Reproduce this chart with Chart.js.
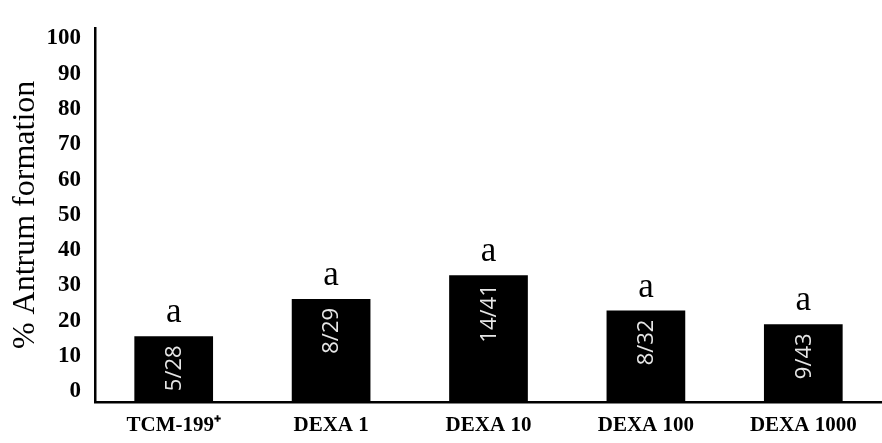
<!DOCTYPE html>
<html>
<head>
<meta charset="utf-8">
<script src="https://cdn.jsdelivr.net/npm/chart.js@4.4.1/dist/chart.umd.min.js"></script>
<style>
  html, body { margin: 0; padding: 0; background: #fff; }
  #wrap { width: 882px; height: 443px; position: relative; }
</style>
</head>
<body>
<div id="wrap"><canvas id="antrumChart"></canvas></div>
<script>
// values
const groups = ['TCM-199\u207A', 'DEXA 1', 'DEXA 10', 'DEXA 100', 'DEXA 1000'];
const antrumPct = [15.6, 26.2, 32.9, 22.9, 19.0];
const ratioLabels = ['5/28', '8/29', '14/41', '8/32', '9/43'];
const sigLetters = ['a', 'a', 'a', 'a', 'a'];
const yTickValues = [0, 10, 20, 30, 40, 50, 60, 70, 80, 90, 100];

const yMin = -3;
const yMax = 103;

const barText = {
  id: 'barText',
  afterDatasetsDraw(chart) {
    const { ctx } = chart;
    const meta = chart.getDatasetMeta(0);
    meta.data.forEach((bar, i) => {
      // letter above the bar
      ctx.save();
      ctx.fillStyle = '#000';
      ctx.font = '35px "Liberation Serif", "Times New Roman", serif';
      ctx.textAlign = 'center';
      ctx.textBaseline = 'alphabetic';
      ctx.fillText(sigLetters[i], bar.x, bar.y - 14);
      ctx.restore();

      // ratio written upward inside the bar
      ctx.save();
      ctx.translate(bar.x, bar.y + 9);
      ctx.rotate(-Math.PI / 2);
      ctx.fillStyle = '#e6e6e6';
      ctx.font = '22px "Open Sans", "DejaVu Sans", sans-serif';
      ctx.textAlign = 'right';
      ctx.textBaseline = 'middle';
      ctx.fillText(ratioLabels[i], 0, 1);
      ctx.restore();
    });
  }
};

new Chart(document.getElementById('antrumChart'), {
  type: 'bar',
  data: {
    labels: groups,
    datasets: [{
      data: antrumPct,
      base: yMin,
      backgroundColor: '#000',
      borderWidth: 0,
      barPercentage: 0.5,
      categoryPercentage: 1.0,
    }],
  },
  options: {
    responsive: true,
    maintainAspectRatio: false,
    animation: false,
    layout: { padding: { top: 8, right: 0, left: 0, bottom: 0 } },
    plugins: {
      legend: { display: false },
      tooltip: { enabled: false },
    },
    scales: {
      x: {
        grid: { display: false, drawTicks: false },
        border: { display: true, color: '#000', width: 2.5 },
        ticks: {
          color: '#000',
          padding: 11,
          maxRotation: 0,
          font: { family: '"Liberation Serif", "Times New Roman", serif', size: 21, weight: 'bold' },
        },
        afterFit: (scale) => { scale.height = 41; },
      },
      y: {
        min: yMin,
        max: yMax,
        grid: { display: false, drawTicks: false },
        border: { display: true, color: '#000', width: 2.5 },
        afterBuildTicks: (scale) => {
          scale.ticks = yTickValues.map((v) => ({ value: v }));
        },
        ticks: {
          color: '#000',
          padding: 14,
          font: { family: '"Liberation Serif", "Times New Roman", serif', size: 23, weight: 'bold' },
        },
        title: {
          display: true,
          text: '% Antrum formation',
          color: '#000',
          padding: { top: 6, bottom: 0 },
          font: { family: '"Liberation Serif", "Times New Roman", serif', size: 32 },
        },
        afterFit: (scale) => { scale.width = 95; },
      },
    },
  },
  plugins: [barText],
});
</script>
</body>
</html>
